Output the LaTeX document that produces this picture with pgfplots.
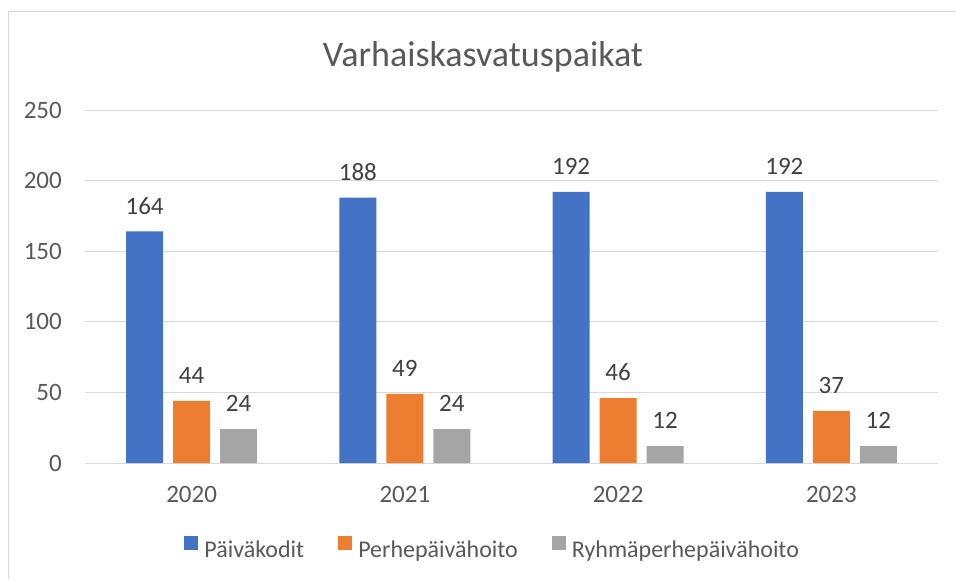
\documentclass[border=0pt]{standalone}
\usepackage{fontspec}
\setmainfont{Carlito}
\usepackage{pgfplots}
\pgfplotsset{compat=1.18}
\definecolor{cblue}{HTML}{4472C4}
\definecolor{corange}{HTML}{ED7D31}
\definecolor{cgray}{HTML}{A5A5A5}
\definecolor{gridc}{HTML}{D9D9D9}
\definecolor{txt}{HTML}{595959}
\definecolor{lbl}{HTML}{404040}
\begin{document}
\begin{tikzpicture}[x=1pt,y=1pt]
\useasboundingbox (0,0) rectangle (956,579);
\draw[color=gridc, line width=1.2pt] (8.5,0) -- (8.5,567.5) -- (956,567.5);
\node[text=txt, font=\fontsize{36}{42}\selectfont] at (483,522) {Varhaiskasvatuspaikat};
\begin{axis}[
  at={(85pt,116pt)}, anchor=south west,
  scale only axis, width=853pt, height=353pt,
  ybar=10pt, bar width=37pt,
  xmin=-0.5, xmax=3.5, ymin=0, ymax=250,
  xtick=data, xticklabels={2020,2021,2022,2023},
  ytick={0,50,100,150,200,250},
  ymajorgrids, grid style={gridc, line width=0.9pt},
  axis x line*=bottom, axis y line*=left,
  x axis line style={gridc, line width=0.9pt},
  y axis line style={draw=none},
  major tick length=0pt, tick style={draw=none},
  /pgf/number format/assume math mode=true,
  ticklabel style={font=\fontsize{25}{30}\selectfont, text=txt, inner sep=0pt},
  xticklabel style={anchor=north, yshift=-23pt},
  yticklabel style={anchor=east, xshift=-23pt},
  nodes near coords,
  every node near coord/.append style={font=\fontsize{25}{30}\selectfont, text=lbl, anchor=south, inner sep=0pt, yshift=17pt},
  legend columns=3,
  legend style={draw=none, at={(0.478,-0.241)}, anchor=center, font=\fontsize{24}{29}\selectfont, text=txt,
    /tikz/every odd column/.append style={column sep=4pt},
    /tikz/every even column/.append style={column sep=32pt}},
  legend image code/.code={\fill[#1, draw=none] (0pt,0pt) rectangle (14pt,14pt);},
  legend cell align=left,
]
\addplot[fill=cblue, draw=none] coordinates {(0,164) (1,188) (2,192) (3,192)};
\addplot[fill=corange, draw=none] coordinates {(0,44) (1,49) (2,46) (3,37)};
\addplot[fill=cgray, draw=none] coordinates {(0,24) (1,24) (2,12) (3,12)};
\legend{Päiväkodit, Perhepäivähoito, Ryhmäperhepäivähoito}
\end{axis}
\end{tikzpicture}
\end{document}
